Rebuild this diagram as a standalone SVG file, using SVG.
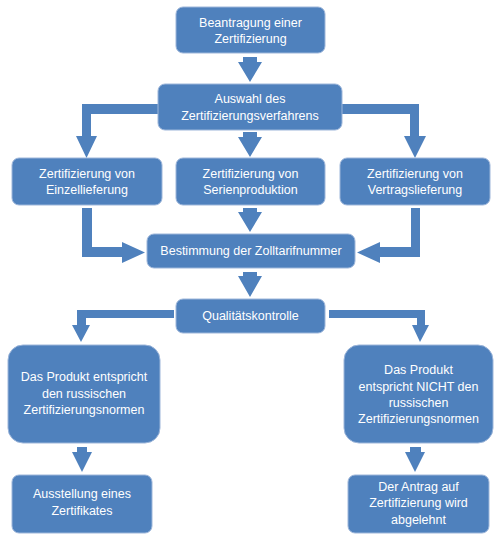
<svg xmlns="http://www.w3.org/2000/svg" width="500" height="540" viewBox="0 0 500 540">
<style>
.box{fill:#4F81BD;stroke:#9db6da;stroke-width:1}
.arr{fill:#4F81BD}
text{font-family:"Liberation Sans",Arial,sans-serif;font-size:12.5px;fill:#ffffff;text-anchor:middle}
</style>
<rect width="500" height="540" fill="#ffffff"/>
<g id="connectors">
<polygon class="arr" points="243,57 257,57 257,62 262,62 250,82 238,62 243,62"/>
<polygon class="arr" points="243,132 257,132 257,137 262,137 250,157 238,137 243,137"/>
<polygon class="arr" points="243,208 257,208 257,212 262,212 250,232 238,212 243,212"/>
<polygon class="arr" points="243,272 257,272 257,276 262,276 250,297 238,276 243,276"/>
<polygon class="arr" points="158,104 82,104 82,136 76,136 86.5,158 97,136 91,136 91,114 158,114"/>
<polygon class="arr" points="342,104 419,104 419,136 426,136 415,158 404,136 410,136 410,114 342,114"/>
<polygon class="arr" points="82,208 92,208 92,247 122,247 122,242 145,252.5 122,263 122,257 82,257"/>
<polygon class="arr" points="420,208 411,208 411,247 380,247 380,242 357,252.5 380,263 380,257 420,257"/>
<polygon class="arr" points="174,310 77,310 77,325 72,325 81,342 90,325 86,325 86,318 174,318"/>
<polygon class="arr" points="329,310 425,310 425,325 429,325 420,342 412,325 417,325 417,318 329,318"/>
<polygon class="arr" points="77,447 87,447 87,452 92,452 82,472 72,452 77,452"/>
<polygon class="arr" points="410,447 421,447 421,452 425,452 415,472 405,452 410,452"/>
</g>
<g id="n1"><rect class="box" x="176" y="7" width="149" height="46" rx="7"/><text x="250.5" y="27">Beantragung einer</text><text x="250.5" y="43">Zertifizierung</text></g>
<g id="n2"><rect class="box" x="158" y="84" width="184" height="46" rx="7"/><text x="250" y="103">Auswahl des</text><text x="250" y="120">Zertifizierungsverfahrens</text></g>
<g id="n3"><rect class="box" x="12" y="158" width="150" height="47" rx="7"/><text x="87" y="178">Zertifizierung von</text><text x="87" y="194">Einzellieferung</text></g>
<g id="n4"><rect class="box" x="176" y="158" width="149" height="47" rx="7"/><text x="250.5" y="178">Zertifizierung von</text><text x="250.5" y="194">Serienproduktion</text></g>
<g id="n5"><rect class="box" x="340" y="158" width="150" height="47" rx="7"/><text x="415" y="178">Zertifizierung von</text><text x="415" y="194">Vertragslieferung</text></g>
<g id="n6"><rect class="box" x="147" y="234" width="208" height="34" rx="7"/><text x="251" y="255">Bestimmung der Zolltarifnummer</text></g>
<g id="n7"><rect class="box" x="176" y="299" width="149" height="34" rx="7"/><text x="250.5" y="320">Qualitätskontrolle</text></g>
<g id="n8"><rect class="box" x="8" y="345" width="152" height="98" rx="15"/><text x="84" y="381">Das Produkt entspricht</text><text x="84" y="398">den russischen</text><text x="84" y="414">Zertifizierungsnormen</text></g>
<g id="n9"><rect class="box" x="344" y="345" width="149" height="98" rx="15"/><text x="418.5" y="374">Das Produkt</text><text x="418.5" y="391">entspricht NICHT den</text><text x="418.5" y="407">russischen</text><text x="418.5" y="423">Zertifizierungsnormen</text></g>
<g id="n10"><rect class="box" x="12" y="475" width="140" height="58" rx="7"/><text x="82" y="498">Ausstellung eines</text><text x="82" y="515">Zertifikates</text></g>
<g id="n11"><rect class="box" x="348" y="475" width="141" height="58" rx="7"/><text x="418.5" y="491">Der Antrag auf</text><text x="418.5" y="507">Zertifizierung wird</text><text x="418.5" y="524">abgelehnt</text></g>
</svg>
